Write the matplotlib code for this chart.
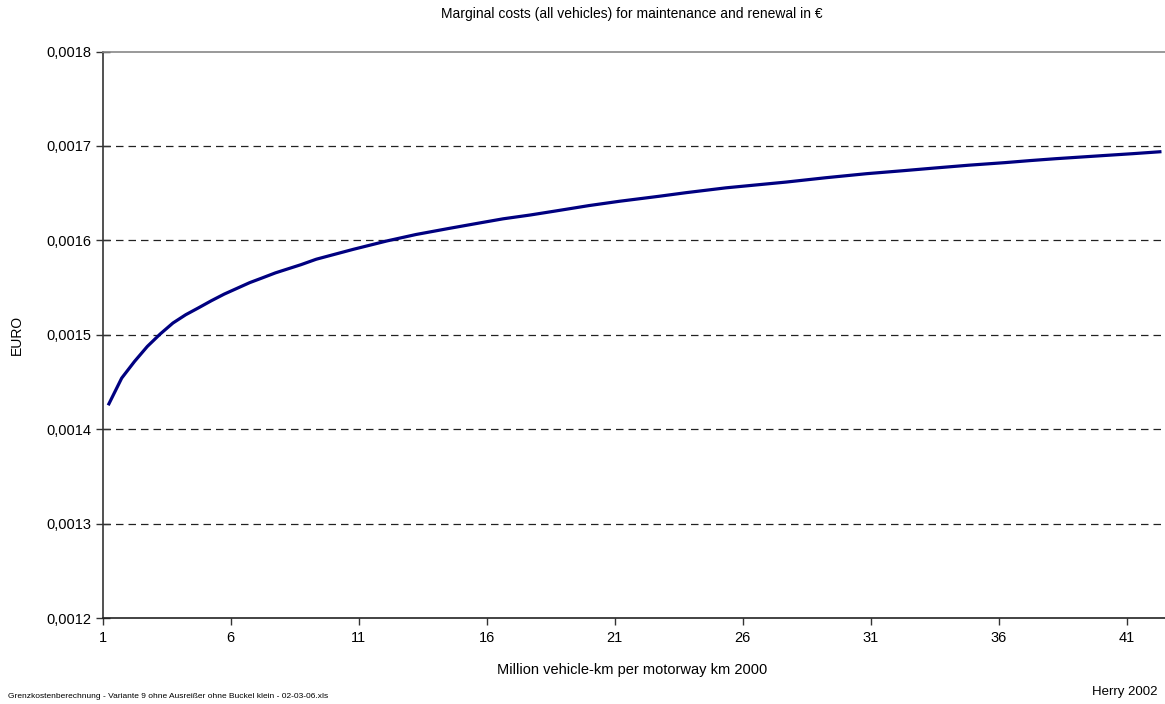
import numpy as np
import matplotlib
matplotlib.use("Agg")
import matplotlib.pyplot as plt

plt.rcParams['font.family'] = ['Liberation Sans', 'DejaVu Sans']

# values (million vehicle-km, EURO)
vehicle_km = [1.25, 1.75, 2.25, 2.75, 3.25, 3.75, 4.25, 4.75, 5.25, 5.75,
              6.25, 6.75, 7.25, 7.75, 8.75, 9.35, 10.8, 12.1, 13.25, 14.55,
              15.75, 16.65, 17.7, 18.7, 20.0, 21.2, 22.75, 23.8, 25.35, 27.7,
              29.25, 30.85, 32.25, 33.55, 34.85, 36.25, 37.25, 38.25, 40.05,
              41.25, 42.3]
marginal_cost = [0.0014268, 0.0014541, 0.0014717, 0.0014876, 0.0015007,
                 0.0015124, 0.0015212, 0.0015285, 0.0015360, 0.0015430,
                 0.0015491, 0.0015552, 0.0015603, 0.0015655, 0.0015742,
                 0.0015800, 0.0015905, 0.0015993, 0.0016062, 0.0016127,
                 0.0016185, 0.0016228, 0.0016268, 0.0016311, 0.0016368,
                 0.0016414, 0.0016467, 0.0016505, 0.0016556, 0.0016617,
                 0.0016663, 0.0016706, 0.0016737, 0.0016767, 0.0016796,
                 0.0016823, 0.0016845, 0.0016865, 0.0016897, 0.0016918,
                 0.0016938]

x_ticks = [1, 6, 11, 16, 21, 26, 31, 36, 41]
y_ticks = [0.0012, 0.0013, 0.0014, 0.0015, 0.0016, 0.0017, 0.0018]
y_tick_labels = ["0,0012", "0,0013", "0,0014", "0,0015", "0,0016", "0,0017", "0,0018"]

fig = plt.figure(figsize=(11.65, 7.04), dpi=100)
ax = fig.add_axes([102.5 / 1165, 86 / 704, (1165 - 102.5) / 1165, 566.5 / 704])

ax.plot(vehicle_km, marginal_cost, color="#000080", linewidth=2.3,
        solid_joinstyle="round", zorder=3)

ax.set_xlim(1, 42.5)
ax.set_ylim(0.0012, 0.0018)
ax.set_xticks(x_ticks)
ax.set_xticklabels([str(t) for t in x_ticks])
ax.set_yticks(y_ticks)
ax.set_yticklabels(y_tick_labels)

# dashed gridlines only between the limits
for v in y_ticks[1:-1]:
    ax.axhline(v, color="#222222", linewidth=0.9, dashes=(6, 4), zorder=1)

ax.spines["right"].set_visible(False)
ax.spines["top"].set_color("#888888")
ax.spines["top"].set_linewidth(1.2)
ax.spines["left"].set_color("#333333")
ax.spines["bottom"].set_color("#222222")
ax.spines["left"].set_linewidth(1.2)
ax.spines["bottom"].set_linewidth(1.2)

ax.tick_params(axis="y", direction="inout", length=10, width=1,
               labelsize=10.5, pad=3, colors="#333333", labelcolor="black")
ax.tick_params(axis="x", direction="out", length=5, width=1,
               labelsize=10.5, pad=4, colors="#333333", labelcolor="black")

fig.text(632 / 1165, 1 - 14 / 704, "Marginal costs (all vehicles) for maintenance and renewal in €",
         ha="center", va="center", fontsize=10)
fig.text(632 / 1165, 1 - 670 / 704, "Million vehicle-km per motorway km 2000",
         ha="center", va="center", fontsize=10.5)
fig.text(17 / 1165, 1 - 335 / 704, "EURO", rotation=90,
         ha="center", va="center", fontsize=10)
fig.text(8 / 1165, 1 - 697 / 704,
         "Grenzkostenberechnung - Variante 9 ohne Ausreißer ohne Buckel klein - 02-03-06.xls",
         ha="left", va="center", fontsize=6)
fig.text(1157 / 1165, 1 - 692 / 704, "Herry 2002",
         ha="right", va="center", fontsize=9.5)

fig.savefig("out.png", dpi=100)
